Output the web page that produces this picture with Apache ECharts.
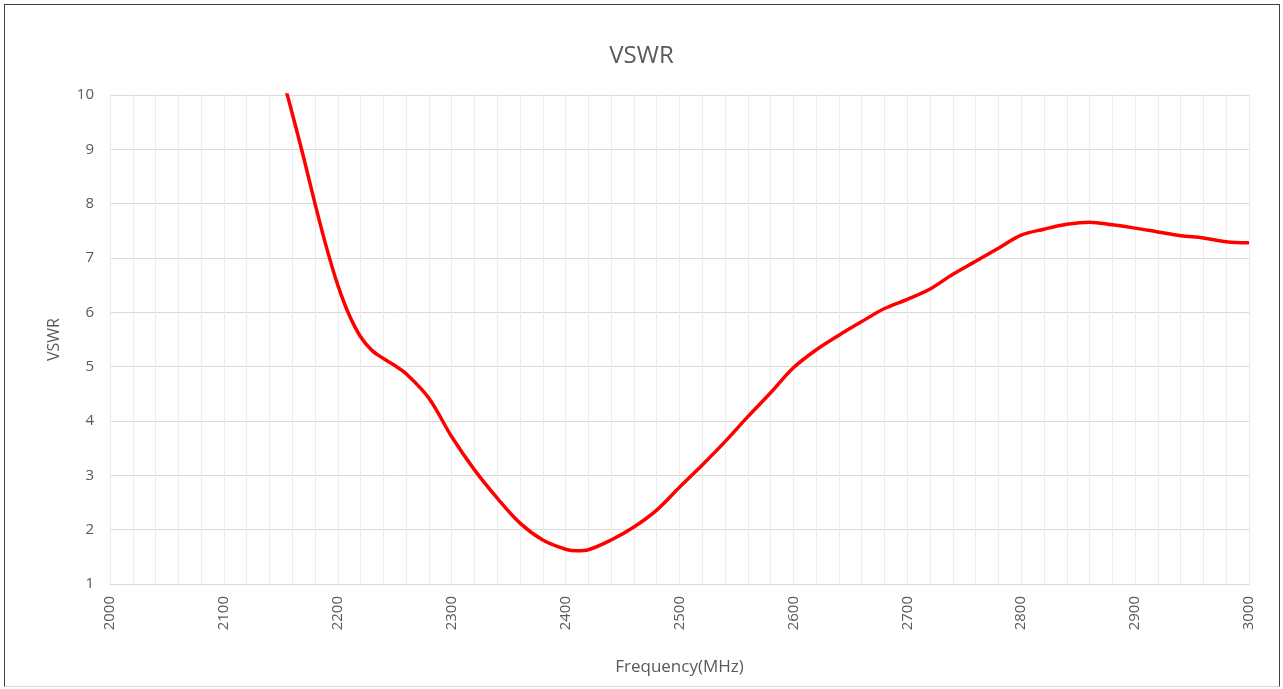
<!DOCTYPE html>
<html>
<head>
<meta charset="utf-8">
<script src="https://cdn.jsdelivr.net/npm/echarts@6/dist/echarts.min.js"></script>
<style>
  html, body { margin: 0; padding: 0; background: #fff; }
  #frame { position: absolute; left: 4px; top: 4px; width: 1276px; height: 683px;
           border-left: 1px solid #404040; border-top: 1px solid #404040; border-right: 1px solid #404040;
           border-bottom: 1px solid #d9d9d9; box-sizing: border-box; }
  #chart { position: absolute; left: 0; top: 0; width: 1283px; height: 689px; }
</style>
</head>
<body>
<div id="frame"></div>
<div id="chart"></div>
<script>
const titleText = 'VSWR';
const xName = 'Frequency(MHz)';
const yName = 'VSWR';
const frequency = [2140, 2150, 2160, 2170, 2180, 2190, 2200, 2210, 2220, 2230, 2240, 2250, 2260, 2280, 2300, 2320, 2340, 2360, 2380, 2400, 2410, 2420, 2440, 2460, 2480, 2500, 2520, 2540, 2560, 2580, 2600, 2620, 2640, 2660, 2680, 2700, 2720, 2740, 2760, 2780, 2800, 2820, 2840, 2860, 2880, 2900, 2920, 2940, 2960, 2980, 3000];
const vswr = [11.3, 10.45, 9.66, 8.85, 8.0, 7.2, 6.5, 5.95, 5.55, 5.3, 5.15, 5.02, 4.87, 4.42, 3.71, 3.10, 2.58, 2.12, 1.81, 1.64, 1.61, 1.63, 1.81, 2.05, 2.36, 2.78, 3.19, 3.62, 4.08, 4.52, 4.98, 5.31, 5.58, 5.83, 6.07, 6.24, 6.43, 6.70, 6.94, 7.18, 7.42, 7.53, 7.62, 7.66, 7.61, 7.55, 7.48, 7.41, 7.37, 7.30, 7.28];
const xMin = 2000, xMax = 3000, xStep = 100;
const yMin = 1, yMax = 10, yStep = 1;

const chart = echarts.init(document.getElementById('chart'));
const font = '"Open Sans", "Liberation Sans", sans-serif';
chart.setOption({
  animation: false,
  title: { text: titleText, left: 'center', top: 39,
    textStyle: { fontFamily: font, fontSize: 24, fontWeight: 'normal', color: '#595959' } },
  grid: { left: 110, right: 34, top: 95, bottom: 105 },
  xAxis: {
    type: 'value', min: xMin, max: xMax, interval: xStep,
    name: xName, nameLocation: 'middle', nameGap: 75,
    nameTextStyle: { fontFamily: font, fontSize: 17, color: '#595959' },
    axisLine: { show: true, lineStyle: { color: '#d9d9d9', width: 1 } },
    axisTick: { show: false },
    minorTick: { show: false, splitNumber: 5 },
    axisLabel: { rotate: 90, margin: 12, fontFamily: font, fontSize: 15, color: '#595959',
      formatter: v => String(v) },
    splitLine: { show: true, lineStyle: { color: '#ececec', width: 1 } },
    minorSplitLine: { show: true, lineStyle: { color: '#ececec', width: 1 } }
  },
  yAxis: {
    type: 'value', min: yMin, max: yMax, interval: yStep,
    name: yName, nameLocation: 'middle', nameGap: 48,
    nameTextStyle: { fontFamily: font, fontSize: 16, color: '#595959' },
    axisLine: { show: false },
    axisTick: { show: false },
    axisLabel: { margin: 16, fontFamily: font, fontSize: 15, color: '#595959',
      formatter: v => String(v) },
    splitLine: { show: true, lineStyle: { color: '#d9d9d9', width: 1 } }
  },
  series: [{
    type: 'line',
    data: frequency.map((f, i) => [f, vswr[i]]),
    smooth: 0.35,
    showSymbol: false,
    clip: true,
    lineStyle: { color: '#ff0000', width: 3.5 }
  }]
});
</script>
</body>
</html>
